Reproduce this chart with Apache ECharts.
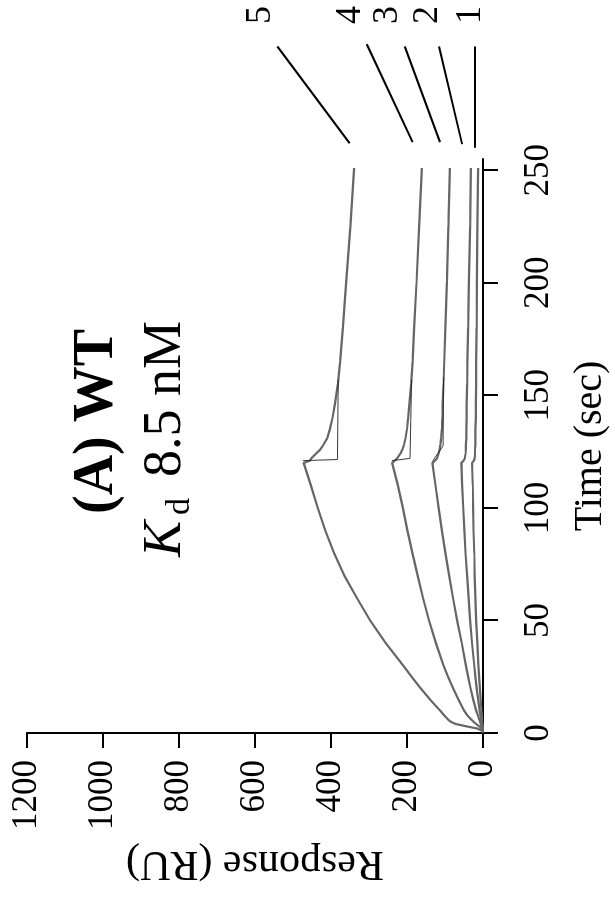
<!DOCTYPE html>
<html>
<head>
<meta charset="utf-8">
<script src="https://cdn.jsdelivr.net/npm/echarts@6/dist/echarts.min.js"></script>
<style>
  html, body { margin: 0; padding: 0; width: 615px; height: 914px; overflow: hidden; background: #fff; }
  /* the figure is printed sideways: draw it upright, then turn it */
  #chart { position: absolute; left: 0; top: 0; width: 914px; height: 615px;
           transform-origin: 0 0; transform: translate(0, 914px) rotate(-90deg); }
</style>
</head>
<body>
<div id="chart"></div>
<script>
  // sampled times (sec), shared by all five sensorgrams
  let times = [0, 1, 2, 3, 4, 5, 6, 8, 10, 15, 20, 25, 30, 40, 50, 60, 70, 80, 90, 100, 110, 120,
               121, 122, 124, 126, 128, 131, 135, 140, 146, 155, 165, 180, 200, 225, 251];
  let ru1 = [0, 0, 0, 1, 1, 2, 2, 3, 4, 6, 8, 10, 12, 15, 18, 20, 22, 23, 25, 26, 27, 29,
             24, 22, 21, 21, 20, 20, 20, 19, 19, 18, 18, 17, 16, 15, 13];
  let ru2 = [0, 0, 1, 2, 3, 4, 5, 7, 9, 13, 17, 20, 23, 29, 34, 38, 42, 46, 49, 52, 55, 57,
             51, 48, 46, 45, 45, 44, 44, 43, 43, 42, 41, 39, 37, 34, 32];
  let ru3 = [0, 0, 2, 4, 6, 8, 10, 14, 18, 26, 33, 39, 45, 56, 68, 79, 89, 99, 108, 117, 125, 133,
             126, 121, 117, 114, 112, 110, 108, 107, 106, 104, 102, 99, 95, 91, 87];
  let ru4 = [0, 1, 4, 10, 18, 25, 31, 42, 50, 65, 79, 92, 104, 124, 142, 158, 172, 186, 199, 211, 224, 239,
             232, 226, 218, 212, 208, 204, 200, 197, 194, 189, 185, 181, 175, 168, 161];
  let ru5 = [0, 2, 15, 45, 72, 85, 92, 103, 113, 140, 165, 188, 210, 256, 297, 332, 365, 392, 415, 435, 453, 472,
             455, 452, 440, 428, 420, 410, 403, 396, 390, 382, 376, 369, 360, 349, 339];

  // thin fit traces that cut across at the end of injection
  let fitT5 = [121, 121.5, 157];
  let fitRu5 = [474, 383, 381];
  let fitT4 = [121, 122, 157];
  let fitRu4 = [240, 192, 188];
  let fitT3 = [120.7, 127.6, 158];
  let fitRu3 = [133, 105, 104];

  // curve labels and their leader lines (time, RU)
  let curveNames = ['1', '2', '3', '4', '5'];
  let leaderFromT = [260, 261.6, 262.5, 262.5, 262];
  let leaderFromRu = [21, 55, 113, 185, 351];
  let leaderToT = [305, 305, 305, 306, 305];
  let leaderToRu = [21, 116, 206, 306, 541];
  let nameT = 319;
  let nameRu = [34, 145, 250, 348, 585];

  let timeTicks = [0, 50, 100, 150, 200, 250];

  let font = '"Liberation Serif", "Times New Roman", serif';
  let chart = echarts.init(document.getElementById('chart'));

  let series = [];
  [ru1, ru2, ru3, ru4, ru5].forEach(function (ru, i) {
    series.push({
      name: 'curve ' + curveNames[i],
      type: 'line',
      data: times.map(function (t, k) { return [t, ru[k]]; }),
      symbol: 'none',
      lineStyle: { color: '#666', width: 2.2 },
      silent: true
    });
  });
  [[fitT5, fitRu5], [fitT4, fitRu4], [fitT3, fitRu3]].forEach(function (f) {
    series.push({
      type: 'line',
      data: f[0].map(function (t, k) { return [t, f[1][k]]; }),
      symbol: 'none',
      lineStyle: { color: '#222', width: 0.9 },
      silent: true
    });
  });

  let option = {
    animation: false,
    backgroundColor: '#fff',
    grid: { left: 181, right: 159, top: 27, bottom: 132, outerBoundsMode: 'none' },
    xAxis: {
      type: 'value',
      min: 0,
      max: 255,
      name: 'Time (sec)',
      nameLocation: 'middle',
      nameGap: 87,
      nameTextStyle: { fontFamily: font, fontSize: 40, color: '#000' },
      axisLine: { show: true, onZero: false, lineStyle: { color: '#000', width: 2 } },
      axisTick: { show: true, length: 15, customValues: timeTicks, lineStyle: { color: '#000', width: 2 } },
      axisLabel: { customValues: timeTicks, margin: 38, fontFamily: font, fontSize: 35, color: '#000' },
      splitLine: { show: false }
    },
    yAxis: {
      type: 'value',
      min: 0,
      max: 1200,
      interval: 200,
      name: 'Response (RU)',
      nameLocation: 'middle',
      nameGap: 109,
      nameTextStyle: { fontFamily: font, fontSize: 42, color: '#000' },
      axisLine: { show: true, onZero: false, lineStyle: { color: '#000', width: 2 } },
      axisTick: { show: true, length: 15, lineStyle: { color: '#000', width: 2 } },
      axisLabel: {
        margin: 27, fontFamily: font, fontSize: 35, color: '#000',
        formatter: function (v) { return String(v); }
      },
      splitLine: { show: false }
    },
    series: series
  };
  chart.setOption(option);

  // texts and leader lines, placed through the axes once the grid exists
  let graphics = [
    { type: 'text', x: 400, y: 98, style: { text: '(A) WT', font: 'bold 56px ' + font, fill: '#000', verticalAlign: 'middle' } },
    { type: 'text', x: 357, y: 166, style: { text: 'K', font: 'italic 54px ' + font, fill: '#000', verticalAlign: 'middle' } },
    { type: 'text', x: 399, y: 180, style: { text: 'd', font: '34px ' + font, fill: '#000', verticalAlign: 'middle' } },
    { type: 'text', x: 437, y: 166, style: { text: '8.5 nM', font: '54px ' + font, fill: '#000', verticalAlign: 'middle' } }
  ];
  curveNames.forEach(function (n, i) {
    let a = chart.convertToPixel({ gridIndex: 0 }, [leaderFromT[i], leaderFromRu[i]]);
    let b = chart.convertToPixel({ gridIndex: 0 }, [leaderToT[i], leaderToRu[i]]);
    let c = chart.convertToPixel({ gridIndex: 0 }, [nameT, nameRu[i]]);
    graphics.push({ type: 'line', shape: { x1: a[0], y1: a[1], x2: b[0], y2: b[1] },
                    style: { stroke: '#000', lineWidth: 2 }, silent: true });
    graphics.push({ type: 'text', x: c[0], y: c[1],
                    style: { text: n, font: '36px ' + font, fill: '#000', align: 'center', verticalAlign: 'middle' } });
  });
  chart.setOption({ graphic: graphics });
</script>
</body>
</html>
